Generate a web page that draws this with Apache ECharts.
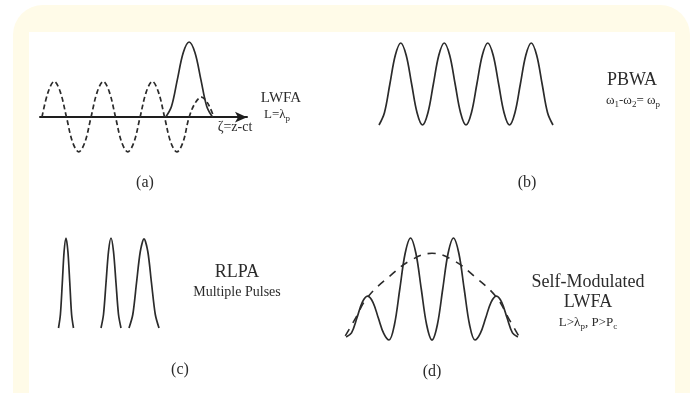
<!DOCTYPE html>
<html>
<head>
<meta charset="utf-8">
<script src="https://cdn.jsdelivr.net/npm/echarts@6/dist/echarts.min.js"></script>
<style>html,body{margin:0;padding:0;background:#fff;}#c{width:691px;height:393px;}</style>
</head>
<body>
<div id="c"></div>
<script>
// ---- data ----
// (a) LWFA: wake (dashed) and laser pulse (solid); x in units of lambda_p
const lwfaWake = [[0,0],[0.125,0.7],[0.25,1],[0.375,0.7],[0.5,0],[0.625,-0.7],[0.75,-0.97],[0.875,-0.7],
  [1,0],[1.125,0.7],[1.25,1],[1.375,0.7],[1.5,0],[1.625,-0.7],[1.75,-0.97],[1.875,-0.7],
  [2,0],[2.125,0.7],[2.25,1],[2.375,0.7],[2.5,0],[2.625,-0.7],[2.75,-0.97],[2.875,-0.7],
  [3,0],[3.125,0.4],[3.25,0.56],[3.375,0.4],[3.5,0.02]];
const lwfaPulse = [[2.52,0],[2.64,0.3],[2.76,1.05],[2.88,1.8],[3.0,2.1],[3.12,1.8],[3.24,1.05],[3.36,0.3],[3.48,0]];
// (b) PBWA: beat wave, x in periods
const pbwaWave = [[0,0],[0.125,0.15],[0.25,0.5],[0.375,0.85],[0.5,1],[0.625,0.85],[0.75,0.5],[0.875,0.15],
  [1,0],[1.125,0.15],[1.25,0.5],[1.375,0.85],[1.5,1],[1.625,0.85],[1.75,0.5],[1.875,0.15],
  [2,0],[2.125,0.15],[2.25,0.5],[2.375,0.85],[2.5,1],[2.625,0.85],[2.75,0.5],[2.875,0.15],
  [3,0],[3.125,0.15],[3.25,0.5],[3.375,0.85],[3.5,1],[3.625,0.85],[3.75,0.5],[3.875,0.15],[4,0]];
// (c) RLPA: three pulses
const rlpaPulse1 = [[0.35,0],[0.54,0.15],[0.73,0.5],[0.91,0.85],[1.1,1],[1.29,0.85],[1.48,0.5],[1.66,0.15],[1.85,0]];
const rlpaPulse2 = [[4.6,0],[4.85,0.15],[5.1,0.5],[5.35,0.85],[5.6,1],[5.85,0.85],[6.1,0.5],[6.35,0.15],[6.6,0]];
const rlpaPulse3 = [[7.4,0],[7.78,0.15],[8.15,0.5],[8.53,0.85],[8.9,0.99],[9.28,0.85],[9.65,0.5],[10.03,0.15],[10.4,0]];
// (d) Self-modulated LWFA: modulated pulse (solid) and envelope (dashed)
const smWave = [[-2,0.03],[-1.875,0.07],[-1.75,0.215],[-1.625,0.37],[-1.5,0.43],[-1.375,0.37],[-1.25,0.215],[-1.125,0.065],
  [-1,0],[-0.875,0.15],[-0.75,0.5],[-0.625,0.85],[-0.5,1],[-0.375,0.85],[-0.25,0.5],[-0.125,0.15],
  [0,0],[0.125,0.15],[0.25,0.5],[0.375,0.85],[0.5,1],[0.625,0.85],[0.75,0.5],[0.875,0.15],
  [1,0],[1.125,0.065],[1.25,0.215],[1.375,0.37],[1.5,0.43],[1.625,0.37],[1.75,0.215],[1.875,0.07],[2,0.03]];
const smEnvelope = [[-2.02,0.04],[-1.8,0.2],[-1.5,0.42],[-1.0,0.62],[-0.5,0.78],[0,0.85],[0.5,0.78],[1.0,0.62],[1.5,0.42],[1.8,0.2],[2.02,0.04]];
// ---- text ----
const panelLetters = ['(a)', '(b)', '(c)', '(d)'];

const FONT = 'Liberation Serif';
const INK = '#2b2b2b';
const chart = echarts.init(document.getElementById('c'));

function txt(x, y, text, size, extra) {
  const style = Object.assign({
    text: text, fill: INK, font: size + 'px "' + FONT + '"',
    align: 'center', verticalAlign: 'middle'
  }, extra || {});
  return { type: 'text', x: x, y: y, z: 10, style: style };
}
function subRich(size, subSize, drop) {
  return {
    n: { fontSize: size, fontFamily: FONT, color: INK },
    s: { fontSize: subSize, fontFamily: FONT, color: INK, padding: [drop * 2, 0, 0, 0] }
  };
}

const hidden = (gi, min, max) => ({ type: 'value', gridIndex: gi, min: min, max: max, show: false });
const lineS = (xi, data, opt) => Object.assign({
  type: 'line', xAxisIndex: xi, yAxisIndex: xi, data: data, smooth: 0.35,
  showSymbol: false, symbol: 'none', clip: false, silent: true,
  lineStyle: { color: INK, width: 1.7 }
}, opt || {});

chart.setOption({
  animation: false,
  backgroundColor: '#ffffff',
  grid: [
    { left: 40, top: 42, width: 207, height: 111 },
    { left: 379, top: 43, width: 174, height: 82 },
    { left: 55, top: 238, width: 110, height: 90 },
    { left: 344, top: 238, width: 176, height: 102 }
  ],
  xAxis: [
    { type: 'value', gridIndex: 0, min: -0.04, max: 4.18,
      axisLine: { show: true, onZero: true, symbol: ['none', 'arrow'], symbolSize: [8, 12],
        lineStyle: { color: '#1e1e1e', width: 2 } },
      axisTick: { show: false }, axisLabel: { show: false }, splitLine: { show: false } },
    hidden(1, 0, 4),
    hidden(2, 0, 11),
    hidden(3, -2.05, 2.05)
  ],
  yAxis: [
    hidden(0, -1, 2.1),
    hidden(1, 0, 1),
    hidden(2, 0, 1),
    hidden(3, 0, 1)
  ],
  series: [
    lineS(0, lwfaWake, { lineStyle: { color: INK, width: 1.7, type: [5, 3] } }),
    lineS(0, lwfaPulse),
    lineS(1, pbwaWave),
    lineS(2, rlpaPulse1, { smooth: 0.3 }),
    lineS(2, rlpaPulse2, { smooth: 0.3 }),
    lineS(2, rlpaPulse3, { smooth: 0.3 }),
    lineS(3, smWave),
    lineS(3, smEnvelope, { smooth: 0.4, lineStyle: { color: INK, width: 1.6, type: [8, 7] } })
  ],
  graphic: [
    { type: 'rect', z: -10, shape: { x: 13, y: 5, width: 677, height: 430, r: 30 }, style: { fill: '#fffbe8' } },
    { type: 'rect', z: -9, shape: { x: 29, y: 32, width: 646, height: 400 }, style: { fill: '#ffffff' } },
    txt(281, 98, 'LWFA', 15),
    txt(277, 115, '{n|L=λ}{s|p}', 13, { rich: subRich(13, 9, 4) }),
    txt(235, 127, 'ζ=z-ct', 14),
    txt(145, 183, panelLetters[0], 16),
    txt(632, 80, 'PBWA', 18),
    txt(633, 101, '{n|ω}{s|1}{n|-ω}{s|2}{n|= ω}{s|p}', 13, { rich: subRich(13, 9, 4) }),
    txt(527, 183, panelLetters[1], 16),
    txt(237, 272, 'RLPA', 18),
    txt(237, 292, 'Multiple Pulses', 14),
    txt(180, 370, panelLetters[2], 16),
    txt(588, 282, 'Self-Modulated', 18),
    txt(588, 302, 'LWFA', 18),
    txt(588, 323, '{n|L>λ}{s|p}{n|, P>P}{s|c}', 13, { rich: subRich(13, 9, 4) }),
    txt(432, 372, panelLetters[3], 16)
  ]
});
</script>
</body>
</html>
